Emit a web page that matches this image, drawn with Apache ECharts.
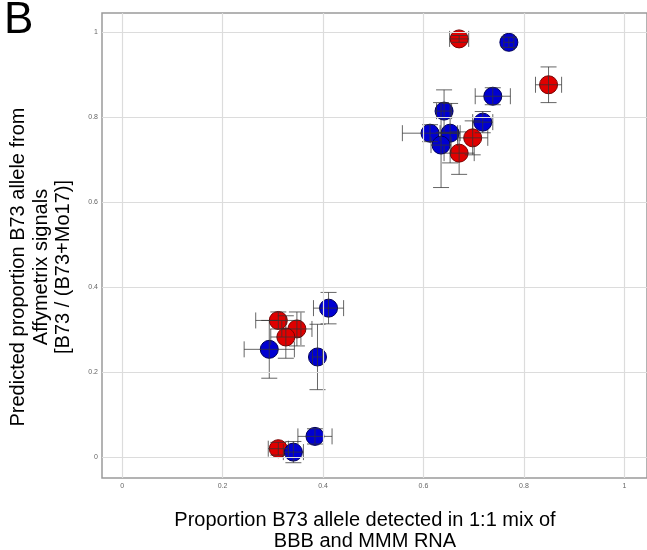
<!DOCTYPE html>
<html>
<head>
<meta charset="utf-8">
<script src="https://cdn.jsdelivr.net/npm/echarts@6/dist/echarts.min.js"></script>
<style>
  html, body { margin: 0; padding: 0; background: #fff; }
  #chart { width: 647px; height: 550px; }
</style>
</head>
<body>
<div id="chart"></div>
<script>
// Axis ticks shared by both axes
const tickValues = [0, 0.2, 0.4, 0.6, 0.8, 1];
const tickLabels = ['0', '0.2', '0.4', '0.6', '0.8', '1'];

// Red samples: position and error half-widths
const redX    = [0.671, 0.849, 0.698, 0.671, 0.311, 0.348, 0.326, 0.311];
const redY    = [0.984, 0.876, 0.751, 0.715, 0.321, 0.301, 0.282, 0.019];
const redXErr = [0.019, 0.026, 0.030, 0.030, 0.045, 0.030, 0.030, 0.020];
const redYErr = [0.008, 0.042, 0.040, 0.050, 0.020, 0.040, 0.050, 0.015];

// Blue samples: position and error half-widths
const blueX    = [0.770, 0.738, 0.641, 0.718, 0.613, 0.653, 0.635, 0.411, 0.293, 0.389, 0.384, 0.341];
const blueY    = [0.976, 0.849, 0.814, 0.788, 0.762, 0.762, 0.734, 0.350, 0.253, 0.235, 0.048, 0.011];
const blueXErr = [0.010, 0.035, 0.015, 0.020, 0.055, 0.020, 0.020, 0.030, 0.050, 0.010, 0.034, 0.020];
const blueYErr = [0.012, 0.020, 0.050, 0.025, 0.020, 0.070, 0.100, 0.037, 0.068, 0.077, 0.018, 0.025];

function rows(xs, ys, xe, ye) {
  return xs.map((x, i) => [x, ys[i], xe[i], ye[i]]);
}
const redRows = rows(redX, redY, redXErr, redYErr);
const blueRows = rows(blueX, blueY, blueXErr, blueYErr);

const CAP = 8;
function renderErrorBars(params, api) {
  const x = api.value(0), y = api.value(1), ex = api.value(2), ey = api.value(3);
  const c = api.coord([x, y]);
  const l = api.coord([x - ex, y]);
  const r = api.coord([x + ex, y]);
  const t = api.coord([x, y + ey]);
  const b = api.coord([x, y - ey]);
  const style = { stroke: '#333', lineWidth: 1, opacity: 0.75 };
  const seg = (x1, y1, x2, y2) => ({ type: 'line', shape: { x1, y1, x2, y2 }, style });
  return {
    type: 'group',
    children: [
      seg(l[0], c[1], r[0], c[1]),
      seg(l[0], c[1] - CAP, l[0], c[1] + CAP),
      seg(r[0], c[1] - CAP, r[0], c[1] + CAP),
      seg(c[0], t[1], c[0], b[1]),
      seg(c[0] - CAP, t[1], c[0] + CAP, t[1]),
      seg(c[0] - CAP, b[1], c[0] + CAP, b[1])
    ]
  };
}

const gridLine = { color: '#dcdcdc', width: 1.2, type: 'solid' };
const axisLabelStyle = { color: '#666', fontSize: 7, fontFamily: 'Liberation Sans' };
const titleFont = { fontSize: 20, fontFamily: 'Liberation Sans', fill: '#000', align: 'center', verticalAlign: 'middle' };

const chart = echarts.init(document.getElementById('chart'), null, { renderer: 'canvas' });
chart.setOption({
  animation: false,
  backgroundColor: '#fff',
  grid: {
    left: 102, right: -3, top: 13, bottom: 72,
    show: true, borderColor: '#9a9a9a', borderWidth: 1.5, backgroundColor: '#fff'
  },
  xAxis: {
    type: 'value', min: -0.04, max: 1.045,
    axisLine: { show: false },
    splitLine: { show: false },
    axisTick: { show: true, customValues: tickValues, length: 3, lineStyle: { color: '#888' } },
    axisLabel: {
      customValues: tickValues, margin: 5, ...axisLabelStyle,
      formatter: v => tickLabels[tickValues.indexOf(Math.round(v * 10) / 10)] ?? ''
    }
  },
  yAxis: {
    type: 'value', min: -0.05, max: 1.045,
    axisLine: { show: false },
    splitLine: { show: false },
    axisTick: { show: true, customValues: tickValues, length: 3, lineStyle: { color: '#888' } },
    axisLabel: {
      customValues: tickValues, margin: 4, ...axisLabelStyle,
      formatter: v => tickLabels[tickValues.indexOf(Math.round(v * 10) / 10)] ?? ''
    }
  },
  graphic: [
    { type: 'text', left: 4, top: -1, style: { text: 'B', fontSize: 44, fontFamily: 'Liberation Sans', fill: '#000' } },
    { type: 'text', x: 18, y: 267, rotation: Math.PI / 2,
      style: { text: 'Predicted proportion B73 allele from', ...titleFont } },
    { type: 'text', x: 41, y: 267, rotation: Math.PI / 2,
      style: { text: 'Affymetrix signals', ...titleFont } },
    { type: 'text', x: 63, y: 267, rotation: Math.PI / 2,
      style: { text: '[B73 / (B73+Mo17)]', ...titleFont } },
    { type: 'text', x: 365, y: 520,
      style: { text: 'Proportion B73 allele detected in 1:1 mix of', ...titleFont } },
    { type: 'text', x: 365, y: 541,
      style: { text: 'BBB and MMM RNA', ...titleFont } }
  ],
  series: [
    {
      // grid lines at the labelled tick positions
      type: 'scatter', data: [], silent: true, z: 1,
      markLine: {
        silent: true, symbol: 'none', label: { show: false }, animation: false,
        lineStyle: gridLine,
        data: tickValues.map(v => ({ xAxis: v })).concat(tickValues.map(v => ({ yAxis: v })))
      }
    },
    {
      type: 'scatter', data: redRows, symbolSize: 18, z: 3,
      itemStyle: { color: '#e00000', borderColor: '#7a0000', borderWidth: 1, opacity: 1 }
    },
    {
      type: 'scatter', data: blueRows, symbolSize: 18, z: 3,
      itemStyle: { color: '#0000d2', borderColor: '#00005a', borderWidth: 1, opacity: 1 }
    },
    { type: 'custom', data: redRows, renderItem: renderErrorBars, z: 4, silent: true },
    { type: 'custom', data: blueRows, renderItem: renderErrorBars, z: 4, silent: true }
  ]
});
</script>
</body>
</html>
